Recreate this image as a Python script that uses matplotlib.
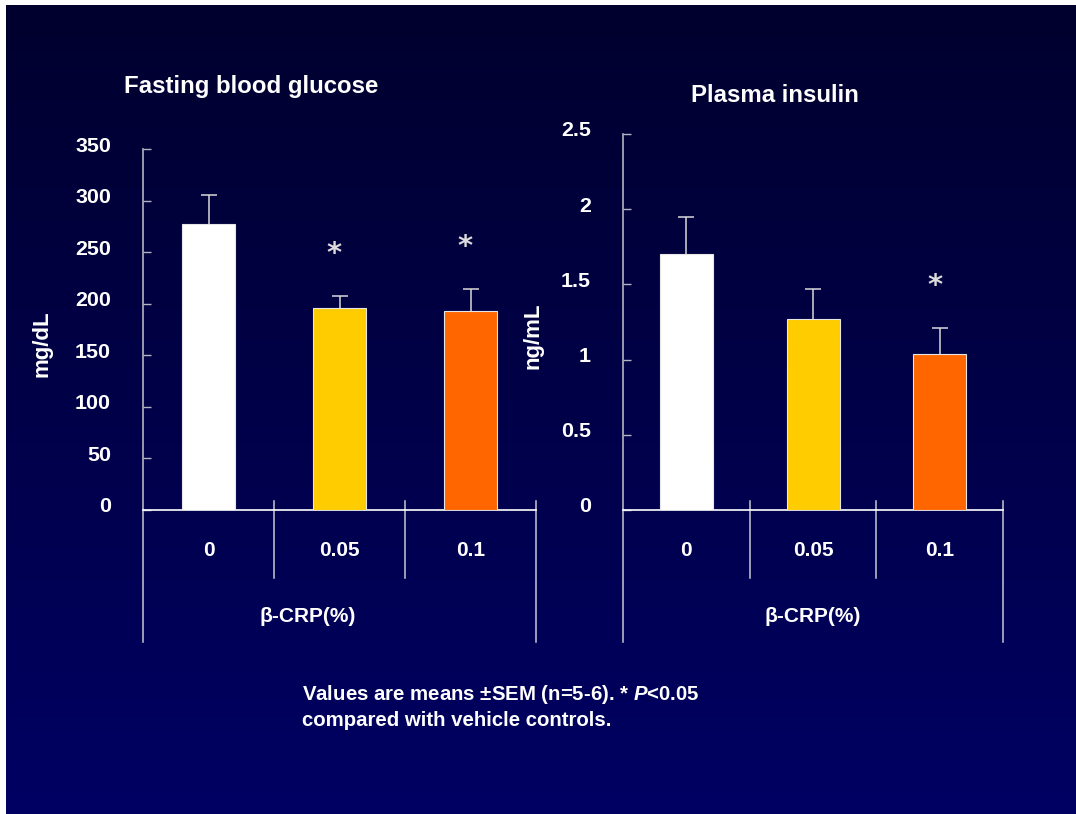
import matplotlib
matplotlib.use('Agg')
import matplotlib.pyplot as plt
import numpy as np
from matplotlib.transforms import ScaledTranslation

W, H = 1076, 814

doses = ['0', '0.05', '0.1']
bar_colors = ['#ffffff', '#ffcc00', '#ff6600']

glucose = [277, 196, 193]
glucose_sem = [28, 11, 21]
glucose_sig = [False, True, True]

insulin = [1.70, 1.27, 1.04]
insulin_sem = [0.25, 0.20, 0.17]
insulin_sig = [False, False, True]

plt.rcParams['font.family'] = ['Liberation Sans', 'DejaVu Sans']
plt.rcParams['font.weight'] = 'bold'
plt.rcParams['mathtext.fontset'] = 'custom'
plt.rcParams['mathtext.it'] = 'Liberation Sans:italic:bold'
plt.rcParams['mathtext.rm'] = 'Liberation Sans:bold'

fig = plt.figure(figsize=(W/100, H/100), dpi=100, facecolor='white')

# gradient background, white strip on top and left
bg = fig.add_axes([6/W, 0, 1-6/W, 1-5/H], zorder=-10)
grad = np.linspace(0, 1, 256).reshape(-1, 1)
top = np.array([0.0, 0.0, 0.18])
bot = np.array([0.0, 0.0, 0.39])
img = top + grad[:, :, None]*(bot-top)
bg.imshow(img, aspect='auto', extent=[0, 1, 0, 1])
bg.axis('off')

txt = 'white'
line_col = '#c8c8d2'


def make_panel(left, right, ytop, ymax, yticks, ticklabels, means, sems, sig,
               ylabel, ylabel_xy, title, title_xy, group_x):
    ax_h = 510 - ytop
    ax = fig.add_axes([left/W, 1-510/H, (right-left)/W, ax_h/H])
    ax.set_facecolor('none')
    x = np.arange(len(doses))
    width = 53/((right-left)/3)
    ax.bar(x, means, width=width, color=bar_colors, edgecolor='#e6e6e6', linewidth=0.8, zorder=3)
    tops = np.array(means) + np.array(sems)
    cap = 8/((right-left)/3)
    ax.vlines(x, means, tops, color='#d8d8d8', lw=1.1, zorder=2)
    ax.hlines(tops, x-cap, x+cap, color='#d8d8d8', lw=1.1, zorder=2)
    for xi, t, s in zip(x, tops, sig):
        if s:
            off = ScaledTranslation(-0.05, 0.42, fig.dpi_scale_trans)
            ax.text(xi, t, '*', transform=ax.transData + off, ha='center', va='center',
                    fontsize=21, color='#dcdcdc', fontweight='bold', family='DejaVu Sans')
    ax.set_xlim(-0.5, 2.5)
    ax.set_ylim(0, ymax)
    ax.set_yticks(yticks)
    ax.set_yticklabels(ticklabels)
    ax.tick_params(axis='y', direction='in', length=6, width=1, color='#b4b4c0',
                   labelcolor=txt, labelsize=15.4, pad=32*0.72)
    for lab in ax.get_yticklabels():
        lab.set_transform(lab.get_transform() + ScaledTranslation(0, 0.05, fig.dpi_scale_trans))
    ax.set_xticks([])
    for s in ['top', 'right']:
        ax.spines[s].set_visible(False)
    ax.spines['left'].set_color('#b4b4c0')
    ax.spines['bottom'].set_color('white')
    ax.spines['left'].set_linewidth(1.2)
    ax.spines['bottom'].set_linewidth(1.2)

    # multi-level category axis
    tr = ax.get_xaxis_transform()
    yf = lambda py: (510 - py)/ax_h
    for b in [0.5, 1.5]:
        ax.plot([b, b], [yf(501), yf(578)], transform=tr, color=line_col, lw=1.1, clip_on=False)
    ax.plot([-0.5, -0.5], [0, yf(642)], transform=tr, color=line_col, lw=1.1, clip_on=False)
    ax.plot([2.5, 2.5], [yf(501), yf(642)], transform=tr, color=line_col, lw=1.1, clip_on=False)
    for xi, d in zip(x, doses):
        ax.text(xi, yf(551), d, transform=tr, ha='center', va='center', color=txt, fontsize=15)
    ax.text(group_x, yf(617), 'β-CRP(%)', transform=ax.transAxes, ha='center', va='center',
            color=txt, fontsize=15)

    fig.text(ylabel_xy[0]/W, 1-ylabel_xy[1]/H, ylabel, rotation=90, ha='center', va='center',
             color=txt, fontsize=16)
    fig.text(title_xy[0]/W, 1-title_xy[1]/H, title, ha='center', va='center',
             color=txt, fontsize=17.3)
    return ax


make_panel(143, 536, 149, 350, [0, 50, 100, 150, 200, 250, 300, 350],
           ['0', '50', '100', '150', '200', '250', '300', '350'],
           glucose, glucose_sem, glucose_sig, 'mg/dL', (42, 344),
           'Fasting blood glucose', (251, 86), 0.418)

make_panel(623, 1003, 134, 2.5, [0, 0.5, 1, 1.5, 2, 2.5],
           ['0', '0.5', '1', '1.5', '2', '2.5'],
           insulin, insulin_sem, insulin_sig, 'ng/mL', (533, 336),
           'Plasma insulin', (775, 96), 0.5)

fig.text(302/W, 1-695/H, 'Values are means ±SEM (n=5-6). * $P$<0.05',
         ha='left', va='center', color=txt, fontsize=14.7)
fig.text(302/W, 1-720/H, 'compared with vehicle controls.',
         ha='left', va='center', color=txt, fontsize=14.7)

fig.savefig('out.png', dpi=100, facecolor='white')
